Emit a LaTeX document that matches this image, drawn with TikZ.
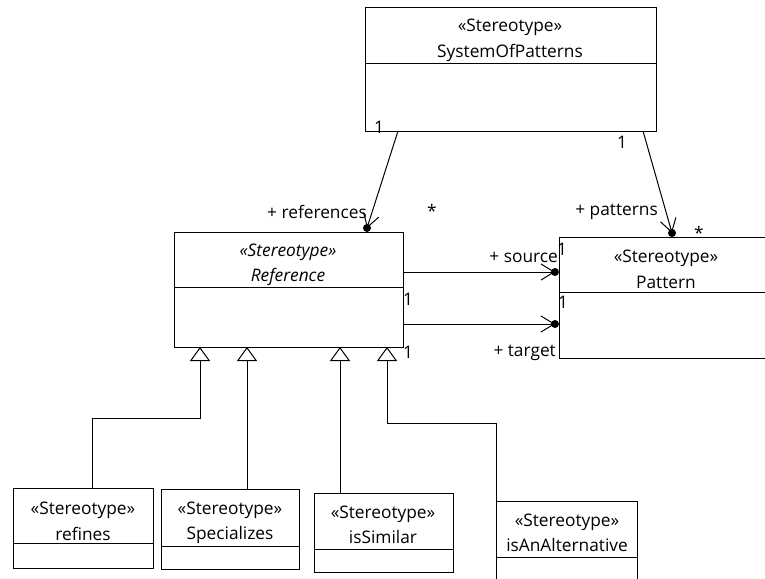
\documentclass[tikz,border=0pt]{standalone}
\usepackage{fontspec}
\setmainfont{Open Sans}
\usetikzlibrary{arrows.meta}
% class rectangle with one compartment divider: name, x1, y1, x2, y-divider, y2
\newcommand{\umlclassbox}[6]{%
  \node[classbox, minimum width={#4-#2}, minimum height={#6-#3}] (#1) at (#2,#3) {};
  \draw[thinline] (#1.west |- 0,#5) -- (#1.east |- 0,#5);}
\begin{document}
\begin{tikzpicture}[x=1pt,y=-1pt,
  thinline/.style={line width=1pt},
  classbox/.style={draw, thinline, rectangle, inner sep=0pt, outer sep=0pt, anchor=north west},
  txt/.style={font=\fontsize{17.3}{20}\selectfont, inner sep=0pt, anchor=base},
  itxt/.style={font=\fontsize{17.3}{20}\selectfont\itshape, inner sep=0pt, anchor=base},
  lbl/.style={font=\fontsize{17.3}{20}\selectfont, inner sep=0pt},
  assoc/.style={thinline, -{Straight Barb[length=13pt,width=16pt,line width=1pt]}},
  gen/.style={thinline, -{Triangle[open,length=14pt,width=20pt,line width=1pt]}}
]
\useasboundingbox (0,0) rectangle (765,578);
\clip (0,0) rectangle (765,578);

% classes
\umlclassbox{sop}{365}{8}{656}{64}{131}
\umlclassbox{ref}{174}{232}{403}{287}{347}
\umlclassbox{pat}{559}{237}{773}{292}{358}
\umlclassbox{refines}{13}{488}{153}{543}{568}
\umlclassbox{spec}{161}{489}{299}{546}{569}
\umlclassbox{sim}{314}{493}{453}{549}{572}
\umlclassbox{alt}{496}{501}{637}{557}{582}

% class names
\node[txt] (sop-st) at (510,32) {«Stereotype»};
\node[txt] (sop-nm) at (510,57) {SystemOfPatterns};
\node[itxt] (ref-st) at (288,256) {«Stereotype»};
\node[itxt] (ref-nm) at (288,281) {Reference};
\node[txt] (pat-st) at (666,262) {«Stereotype»};
\node[txt] (pat-nm) at (666,288) {Pattern};
\node[txt] (refines-st) at (83,514) {«Stereotype»};
\node[txt] (refines-nm) at (83,540) {refines};
\node[txt] (spec-st) at (230,514) {«Stereotype»};
\node[txt] (spec-nm) at (230,539) {Specializes};
\node[txt] (sim-st) at (383,518) {«Stereotype»};
\node[txt] (sim-nm) at (383,543) {isSimilar};
\node[txt] (alt-st) at (567,526) {«Stereotype»};
\node[txt] (alt-nm) at (567,551) {isAnAlternative};

% associations
\coordinate (refDot) at (367,228);
\coordinate (patDot) at (672,233);
\coordinate (srcDot) at (555,272);
\coordinate (tgtDot) at (555,324);
\draw[assoc] (sop.south -| 398,0) -- (refDot);
\draw[assoc] (sop.south -| 643,0) -- (patDot);
\draw[assoc] (ref.east |- 0,272) -- (srcDot);
\draw[assoc] (ref.east |- 0,324) -- (tgtDot);
\foreach \d in {refDot,patDot,srcDot,tgtDot} \fill (\d) circle (4pt);

% role names and multiplicities
\node[lbl, anchor=base east] (l-refs) at (367,218) {+ references};
\node[lbl, anchor=base] (m-refs) at (432,217) {*};
\node[lbl, anchor=base east] (l-pats) at (658,215) {+ patterns};
\node[lbl, anchor=base] (m-pats) at (699,239) {*};
\node[lbl, anchor=base east] (l-src) at (558,262) {+ source};
\node[lbl, anchor=base east] (l-tgt) at (556,356) {+ target};
\node[lbl, anchor=base] (m-sop1) at (379,133) {1};
\node[lbl, anchor=base] (m-sop2) at (622,148) {1};
\node[lbl, anchor=base] (m-src1) at (562,255) {1};
\node[lbl, anchor=base] (m-src2) at (408,305) {1};
\node[lbl, anchor=base] (m-tgt1) at (563,308) {1};
\node[lbl, anchor=base] (m-tgt2) at (408,358) {1};

% generalizations
\draw[gen] (refines.north -| 92,0) |- (200,418) -- (ref.south -| 200,0);
\draw[gen] (spec.north -| 247,0) -- (ref.south -| 247,0);
\draw[gen] (sim.north -| 340,0) -- (ref.south -| 340,0);
\draw[gen] (alt.north west) |- (387,423) -- (ref.south -| 387,0);
\end{tikzpicture}
\end{document}
